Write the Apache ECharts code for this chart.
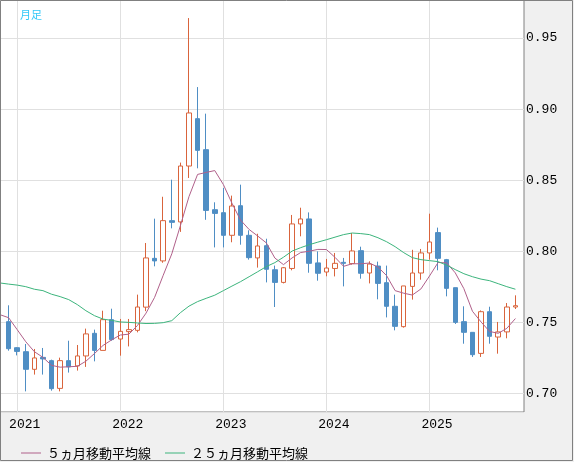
<!DOCTYPE html>
<html>
<head>
<meta charset="utf-8">
<script src="https://cdn.jsdelivr.net/npm/echarts@6/dist/echarts.min.js"></script>
<style>
html,body{margin:0;padding:0;background:#f0f0f0;}
#main{width:574px;height:462px;}
</style>
</head>
<body>
<div id="main"></div>
<script>
var categories = ['2020-11','2020-12',
 '2021-01','2021-02','2021-03','2021-04','2021-05','2021-06','2021-07','2021-08','2021-09','2021-10','2021-11','2021-12',
 '2022-01','2022-02','2022-03','2022-04','2022-05','2022-06','2022-07','2022-08','2022-09','2022-10','2022-11','2022-12',
 '2023-01','2023-02','2023-03','2023-04','2023-05','2023-06','2023-07','2023-08','2023-09','2023-10','2023-11','2023-12',
 '2024-01','2024-02','2024-03','2024-04','2024-05','2024-06','2024-07','2024-08','2024-09','2024-10','2024-11','2024-12',
 '2025-01','2025-02','2025-03','2025-04','2025-05','2025-06','2025-07','2025-08','2025-09','2025-10','2025-11','2025-12'];

var opens  = ['-',0.7506,0.7323,0.7295,0.7171,0.7255,0.7232,0.7037,0.7232,0.7195,0.7265,0.7424,0.7304,0.7520,0.7384,0.7436,0.7445,0.7608,0.7951,0.7933,0.8216,0.8207,0.8600,0.8933,0.8715,0.8293,0.8272,0.8113,0.8321,0.8113,0.7954,0.8040,0.7871,0.7782,0.7880,0.8193,0.8228,0.7919,0.7855,0.7880,0.7923,0.7914,0.8005,0.7848,0.7897,0.7780,0.7614,0.7471,0.7754,0.7848,0.7989,0.8132,0.7942,0.7745,0.7506,0.7431,0.7283,0.7576,0.7398,0.7434,0.7609];
var closes = ['-',0.7316,0.7297,0.7171,0.7251,0.7244,0.7035,0.7232,0.7188,0.7265,0.7420,0.7304,0.7520,0.7380,0.7438,0.7450,0.7609,0.7954,0.7933,0.8216,0.8204,0.8600,0.8973,0.8710,0.8288,0.8267,0.8113,0.8319,0.8113,0.7956,0.8038,0.7874,0.7782,0.7885,0.8193,0.8228,0.7916,0.7846,0.7883,0.7916,0.7916,0.8003,0.7846,0.7911,0.7775,0.7614,0.7473,0.7757,0.7848,0.7989,0.8066,0.7951,0.7740,0.7501,0.7431,0.7274,0.7576,0.7403,0.7434,0.7609,0.7618];
var lows   = ['-',0.7302,0.7269,0.7016,0.7134,0.7134,0.7021,0.7016,0.7148,0.7162,0.7188,0.7227,0.7304,0.7372,0.7267,0.7332,0.7431,0.7580,0.7895,0.7920,0.8162,0.8137,0.8516,0.8584,0.8222,0.8028,0.8028,0.8064,0.8047,0.7942,0.7886,0.7782,0.7609,0.7775,0.7867,0.8106,0.7850,0.7794,0.7825,0.7824,0.7754,0.7907,0.7808,0.7775,0.7663,0.7536,0.7445,0.7464,0.7661,0.7801,0.7942,0.7867,0.7684,0.7490,0.7351,0.7258,0.7258,0.7351,0.7281,0.7389,0.7595];
var highs  = ['-',0.7621,0.7327,0.7349,0.7314,0.7321,0.7239,0.7253,0.7372,0.7342,0.7457,0.7450,0.7583,0.7597,0.7525,0.7525,0.7696,0.8059,0.8230,0.8384,0.8504,0.8624,0.9640,0.9155,0.8968,0.8345,0.8446,0.8392,0.8469,0.8148,0.8124,0.8089,0.7900,0.7890,0.8256,0.8307,0.8274,0.8000,0.7947,0.7989,0.7954,0.8129,0.8033,0.7930,0.7928,0.7900,0.7696,0.7757,0.8011,0.8017,0.8265,0.8167,0.7947,0.7745,0.7614,0.7431,0.7585,0.7611,0.7504,0.7637,0.7691];

var ma5  = [0.7555,0.7534,0.7450,0.7365,0.7295,0.7255,0.7199,0.7186,0.7189,0.7192,0.7228,0.7282,0.7339,0.7378,0.7412,0.7418,0.7479,0.7566,0.7677,0.7832,0.7983,0.8181,0.8385,0.8541,0.8555,0.8568,0.8470,0.8339,0.8220,0.8154,0.8108,0.8060,0.7953,0.7907,0.7954,0.7992,0.8001,0.8014,0.8013,0.7958,0.7895,0.7913,0.7913,0.7918,0.7890,0.7830,0.7724,0.7706,0.7693,0.7736,0.7827,0.7922,0.7919,0.7849,0.7738,0.7579,0.7504,0.7437,0.7424,0.7459,0.7528];
var ma25 = [0.7778,0.7770,0.7763,0.7752,0.7734,0.7724,0.7699,0.7682,0.7661,0.7626,0.7583,0.7548,0.7524,0.7515,0.7504,0.7501,0.7497,0.7493,0.7494,0.7499,0.7513,0.7569,0.7615,0.7647,0.7670,0.7692,0.7724,0.7756,0.7787,0.7822,0.7857,0.7893,0.7921,0.7959,0.8002,0.8026,0.8047,0.8065,0.8082,0.8100,0.8118,0.8129,0.8125,0.8118,0.8096,0.8068,0.8033,0.7991,0.7956,0.7942,0.7935,0.7928,0.7903,0.7872,0.7843,0.7822,0.7805,0.7794,0.7773,0.7752,0.7734];

var seriesNames = ['５ヵ月移動平均線','２５ヵ月移動平均線'];
var titleText = '月足';

var candleData = opens.map(function(o, i){ return [o, closes[i], lows[i], highs[i]]; });

var monoFont = '"Liberation Mono", "DejaVu Sans Mono", monospace';
var cjkFont = '"Noto Sans CJK JP", "Noto Sans", sans-serif';

var chart = echarts.init(document.getElementById('main'), null, {renderer: 'canvas'});
var isJan = function(idx, val){ return /-01$/.test(val); };

chart.setOption({
  animation: false,
  backgroundColor: '#f0f0f0',
  title: {
    text: titleText, left: 15, top: 4,
    textStyle: {fontSize: 11, fontWeight: 'normal', color: '#33c8f8', fontFamily: cjkFont}
  },
  legend: {
    left: 16, top: 441, itemWidth: 20, itemHeight: 1, itemGap: 14, icon: 'rect',
    data: seriesNames,
    itemStyle: {borderWidth: 0},
    textStyle: {fontSize: 13, lineHeight: 14, color: '#000', fontFamily: cjkFont, padding: [0,0,0,1]}
  },
  grid: {
    left: 0, top: 0, width: 524, height: 412,
    show: true, backgroundColor: '#ffffff', borderColor: '#808080', borderWidth: 1
  },
  xAxis: {
    type: 'category', data: categories, boundaryGap: false,
    axisLine: {show: false}, axisTick: {show: false},
    axisLabel: {
      interval: isJan, margin: 6, align: 'center', padding: [0,0,0,15],
      formatter: function(v){ return v.slice(0,4); },
      fontSize: 13, color: '#000', fontFamily: monoFont
    },
    splitLine: {show: true, interval: isJan, lineStyle: {color: '#e0e0e0', width: 1}}
  },
  yAxis: {
    type: 'value', position: 'right', scale: true,
    min: 0.6871, max: 0.9767, splitNumber: 5,
    axisLine: {show: false}, axisTick: {show: false},
    axisLabel: {
      margin: 2, showMinLabel: false, showMaxLabel: false,
      formatter: function(v){ return v.toFixed(2); },
      fontSize: 13, color: '#000', fontFamily: monoFont
    },
    splitLine: {show: true, lineStyle: {color: '#e0e0e0', width: 1}}
  },
  series: [
    {
      type: 'candlestick', name: 'candle', data: candleData, barWidth: 5, clip: true,
      itemStyle: {color: '#ffffff', color0: '#4f8ec4', borderColor: '#d9643c', borderColor0: '#4f8ec4', borderWidth: 1},
      z: 3
    },
    {
      type: 'line', name: seriesNames[0], data: ma5, symbol: 'none', showSymbol: false,
      lineStyle: {color: '#b0608a', width: 1}, itemStyle: {color: '#b0608a'}, z: 4
    },
    {
      type: 'line', name: seriesNames[1], data: ma25, symbol: 'none', showSymbol: false,
      lineStyle: {color: '#3cb47c', width: 1}, itemStyle: {color: '#3cb47c'}, z: 4
    }
  ],
  graphic: [{
    type: 'rect', shape: {x: 0.5, y: 0.5, width: 572, height: 460},
    style: {fill: null, stroke: '#808080', lineWidth: 1}, z: 100, silent: true
  }]
});
</script>
</body>
</html>
